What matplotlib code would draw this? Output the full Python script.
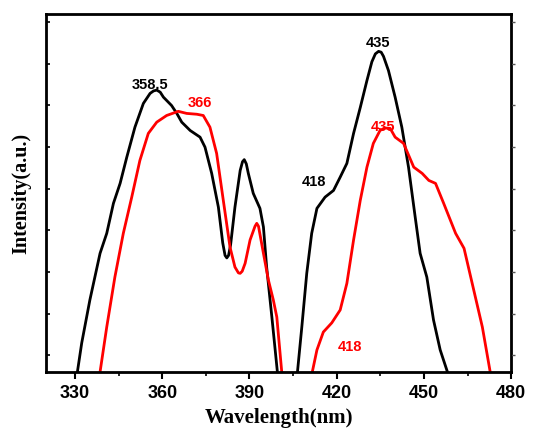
import matplotlib.pyplot as plt

# black spectrum, part 1 (left band)
black1_x = [330.8, 332.3, 335.1, 338.6, 340.9, 343.2, 345.5, 347.8, 350.6, 353.5, 355.8, 357.0, 358.1,
            359.3, 360.4, 363.2, 365.0, 366.7, 369.6, 373.0, 374.7, 377.0, 379.3, 380.8, 381.6, 382.2,
            382.8, 383.5, 385.0, 386.8, 387.6, 388.2, 388.9, 389.6, 391.3, 393.6, 394.8, 395.9, 397.7, 399.6]
black1_y = [0.0, 0.70, 1.73, 2.85, 3.33, 4.05, 4.53, 5.16, 5.88, 6.45, 6.69, 6.75, 6.77,
            6.72, 6.60, 6.40, 6.21, 6.00, 5.80, 5.64, 5.40, 4.77, 3.96, 3.10, 2.80, 2.74,
            2.80, 3.05, 3.96, 4.84, 5.05, 5.10, 5.00, 4.77, 4.29, 3.93, 3.48, 2.52, 1.32, 0.0]

# black spectrum, part 2 (right band)
black2_x = [406.5, 408.0, 409.7, 411.4, 413.2, 416.0, 418.9, 421.2, 423.5, 425.8, 428.1, 430.4,
            432.1, 433.3, 434.4, 435.3, 436.1, 437.8, 440.1, 442.4, 444.7, 447.0, 448.7, 451.0,
            453.3, 455.6, 458.1]
black2_y = [0.0, 1.08, 2.37, 3.33, 3.93, 4.20, 4.36, 4.68, 5.01, 5.73, 6.35, 7.00,
            7.45, 7.64, 7.70, 7.68, 7.58, 7.24, 6.60, 5.88, 4.92, 3.72, 2.85, 2.28,
            1.25, 0.53, 0.0]

# red spectrum, part 1
red1_x = [338.6, 340.9, 343.7, 346.6, 349.5, 352.3, 355.2, 358.1, 361.5, 365.5, 368.4, 371.9,
          374.1, 376.4, 378.7, 381.0, 383.3, 385.0, 386.2, 386.8, 387.5, 388.5, 390.2, 391.9,
          392.5, 393.1, 394.8, 396.5, 398.2, 399.4, 401.1]
red1_y = [0.0, 1.08, 2.28, 3.33, 4.20, 5.08, 5.73, 6.00, 6.16, 6.26, 6.21, 6.19,
          6.16, 5.88, 5.25, 4.12, 3.00, 2.52, 2.38, 2.37, 2.42, 2.61, 3.17, 3.50,
          3.57, 3.50, 2.85, 2.21, 1.73, 1.32, 0.0]

# red spectrum, part 2
red2_x = [411.6, 413.2, 415.4, 418.3, 421.2, 423.5, 425.8, 428.1, 430.4, 432.6, 434.9, 436.5,
          438.4, 440.1, 443.0, 446.5, 449.4, 451.7, 454.0, 456.8, 460.9, 463.8, 466.6, 470.1, 472.8]
red2_y = [0.0, 0.53, 0.96, 1.18, 1.49, 2.13, 3.17, 4.12, 4.92, 5.49, 5.80, 5.86,
          5.85, 5.64, 5.49, 4.92, 4.77, 4.60, 4.53, 4.05, 3.33, 2.97, 2.13, 1.08, 0.0]

# peak labels: (text, x, y, colour)
peak_labels = [("358.5", 355.8, 6.9, "black"), ("366", 373.0, 6.47, "red"),
               ("435", 434.2, 7.91, "black"), ("435", 436.0, 5.88, "red"),
               ("418", 412.2, 4.56, "black"), ("418", 424.6, 0.6, "red")]

x_ticks = [330, 360, 390, 420, 450, 480]
y_ticks = [0.4 + i for i in range(9)]

fig = plt.figure(figsize=(5.39, 4.40), dpi=100)
ax = fig.add_axes([0.0853, 0.1545, 0.863, 0.813])

lw = 2.0
for xs, ys, c in [(black1_x, black1_y, "black"), (black2_x, black2_y, "black"),
                  (red1_x, red1_y, "red"), (red2_x, red2_y, "red")]:
    ax.plot(xs, ys, color=c, lw=lw, solid_joinstyle="round", solid_capstyle="round")

for txt, x, y, c in peak_labels:
    ax.text(x, y, txt, color=c, fontsize=10.5, fontweight="bold", family="Liberation Sans",
            ha="center", va="center")

ax.set_xlim(320, 480)
ax.set_ylim(0, 8.59)
ax.set_xticks(x_ticks)
ax.set_xticks([345, 375, 405, 435, 465], minor=True)
ax.set_yticks(y_ticks)
ax.set_yticklabels([])
ax.tick_params(axis="x", which="major", direction="out", length=5, width=1.5,
               labelsize=13, pad=4)
ax.tick_params(axis="x", which="minor", direction="out", length=3, width=1.2)
ax.tick_params(axis="y", direction="in", length=3, width=1.2)
for lab in ax.get_xticklabels():
    lab.set_fontweight("bold")
    lab.set_family("Liberation Sans")
for s in ax.spines.values():
    s.set_linewidth(2.0)

# right-hand ticks point outward
ax2 = ax.twinx()
ax2.set_ylim(ax.get_ylim())
ax2.set_yticks(y_ticks)
ax2.set_yticklabels([])
ax2.tick_params(axis="y", direction="out", length=3, width=1.0, color="#555555")

ax.set_xlabel("Wavelength(nm)", fontsize=15, fontweight="bold", family="Liberation Serif", labelpad=5)
ax.set_ylabel("Intensity(a.u.)", fontsize=14.5, fontweight="bold", family="Liberation Serif", labelpad=7)

fig.savefig("out.png", dpi=100)
